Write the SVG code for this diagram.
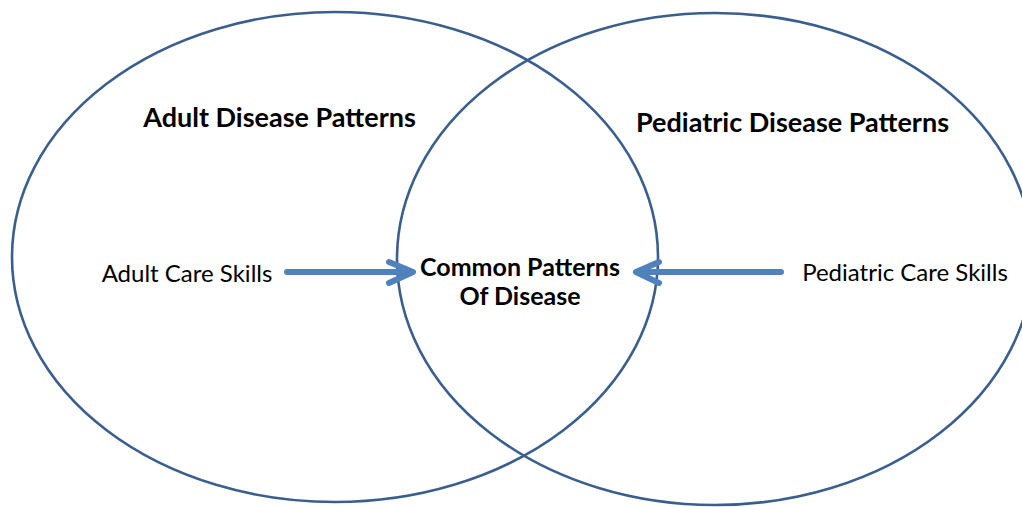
<svg xmlns="http://www.w3.org/2000/svg" width="1022" height="507" viewBox="0 0 1022 507">
<style>
.circ{fill:none;stroke:#3A5F8F;stroke-width:2.6}
.arr{fill:none;stroke:#4F81BD;stroke-width:6;stroke-linecap:round;stroke-linejoin:round}
.t{font-family:Lato,"Open Sans",sans-serif;fill:#000}
.h{font-weight:bold;font-size:27px}
.b{font-weight:bold;font-size:25px}
.r{font-size:24px}
</style>
<rect width="1022" height="507" fill="#fff"/>
<g id="adult-set"><ellipse class="circ" cx="335" cy="257" rx="323" ry="245"/></g>
<g id="pediatric-set"><ellipse class="circ" cx="715" cy="259" rx="318" ry="246"/></g>
<g id="adult-title"><text class="t h" x="279.5" y="127" text-anchor="middle">Adult Disease Patterns</text></g>
<g id="pediatric-title"><text class="t h" x="792.5" y="132" text-anchor="middle">Pediatric Disease Patterns</text></g>
<g id="adult-skills"><text class="t r" x="187" y="282" text-anchor="middle">Adult Care Skills</text></g>
<g id="pediatric-skills"><text class="t r" x="905" y="281" text-anchor="middle">Pediatric Care Skills</text></g>
<g id="common"><text class="t b" x="520" y="276" text-anchor="middle">Common Patterns</text><text class="t b" x="520" y="305" text-anchor="middle">Of Disease</text></g>
<g id="connectors">
<path class="arr" d="M287 272 H412 M389 262 L413 272 L389 283"/>
<path class="arr" d="M781 272 H637 M659 262 L636 272 L659 283"/>
</g>
</svg>
